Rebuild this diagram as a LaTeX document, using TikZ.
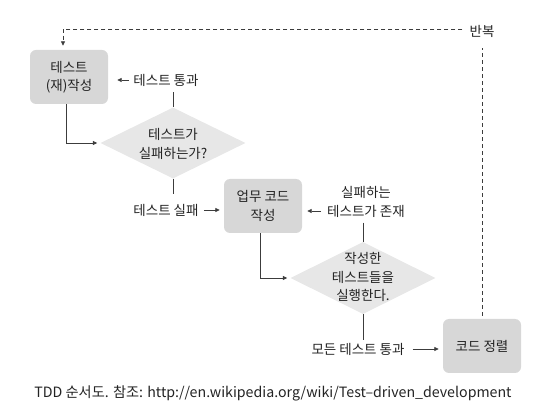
\documentclass[tikz,border=0pt]{standalone}
\usepackage{fontspec}
\setmainfont{Noto Sans CJK KR}
\usetikzlibrary{shapes.geometric,arrows.meta}
\definecolor{boxgray}{RGB}{215,215,215}
\definecolor{diagray}{RGB}{231,231,231}
\definecolor{linegray}{RGB}{60,60,60}
\definecolor{txtcol}{RGB}{35,35,35}
\begin{document}
\begin{tikzpicture}[x=1pt,y=-1pt,
  every node/.style={text=txtcol,font=\fontsize{13.5}{18.5}\selectfont},
  box/.style={rectangle,rounded corners=6pt,fill=boxgray,minimum width=78pt,minimum height=54pt,align=center,inner sep=0pt},
  dia/.style={diamond,fill=diagray,inner sep=0pt},
  txt/.style={inner sep=0pt,align=center},
  ln/.style={draw=linegray,line width=0.8pt},
  arr/.style={ln,-{Triangle[length=4.5pt,width=4pt]}},
  dsh/.style={draw=linegray,line width=0.8pt,dash pattern=on 4pt off 3pt}
]
\useasboundingbox (0,0) rectangle (539,414);

% nodes
\node[box] (b1) at (69,77) {테스트\\(재)작성};
\node[txt] (t1) at (166,80) {테스트 통과};
\node[dia,minimum width=145pt,minimum height=71pt] (d1) at (173,143) {};
\node[txt] (d1t) at (173,144) {테스트가\\실패하는가?};
\node[txt] (t2) at (166,210) {테스트 실패};
\node[box] (b2) at (263,206) {업무 코드\\작성};
\node[txt] (t3) at (366,202) {실패하는\\테스트가 존재};
\node[dia,minimum width=145pt,minimum height=72pt] (d2) at (363,278) {};
\node[txt] (d2t) at (363,277) {작성한\\테스트들을\\실행한다.};
\node[txt] (t4) at (358,349) {모든 테스트 통과};
\node[box] (b3) at (482,346) {코드 정렬};
\node[txt] (rep) at (482,31) {반복};
\coordinate (c1) at (63,29);
\node[txt,font=\fontsize{14.2}{16}\selectfont] (cap) at (273,393) {TDD 순서도. 참조: http://en.wikipedia.org/wiki/Test–driven\_development};

% connectors
\draw[arr,shorten <=4pt,shorten >=9pt] (t1.west) -- (t1.west -| b1.east);
\draw[ln,shorten <=6pt] (t1.south -| d1.north) -- (d1.north);
\draw[arr,shorten >=3pt] ([xshift=-3pt]b1.south) |- (d1.west);
\draw[ln] (d1.south) -- ([yshift=-15pt]d1.south);
\draw[arr,shorten <=5pt,shorten >=4pt] (t2.east) -- (t2.east -| b2.west);
\draw[arr,shorten <=6pt,shorten >=5pt] ([yshift=-9pt]t3.west) -- ([yshift=-9pt]t3.west -| b2.east);
\draw[ln,shorten <=5pt] (t3.south -| d2.north) -- (d2.north);
\draw[arr,shorten >=3pt] ([xshift=-3pt]b2.south) |- (d2.west);
\draw[ln] (d2.south) -- ([yshift=-26pt]d2.south);
\draw[arr,shorten <=8pt,shorten >=4pt] (t4.east) -- (t4.east -| b3.west);
\draw[dsh,shorten <=3pt,shorten >=11pt] (b3.north) -- (rep.south);
\draw[dsh,-{Triangle[length=4.5pt,width=4pt]},shorten <=7pt,shorten >=4pt] (c1 -| rep.west) -- (c1) -- (c1 |- b1.north);
\end{tikzpicture}
\end{document}
